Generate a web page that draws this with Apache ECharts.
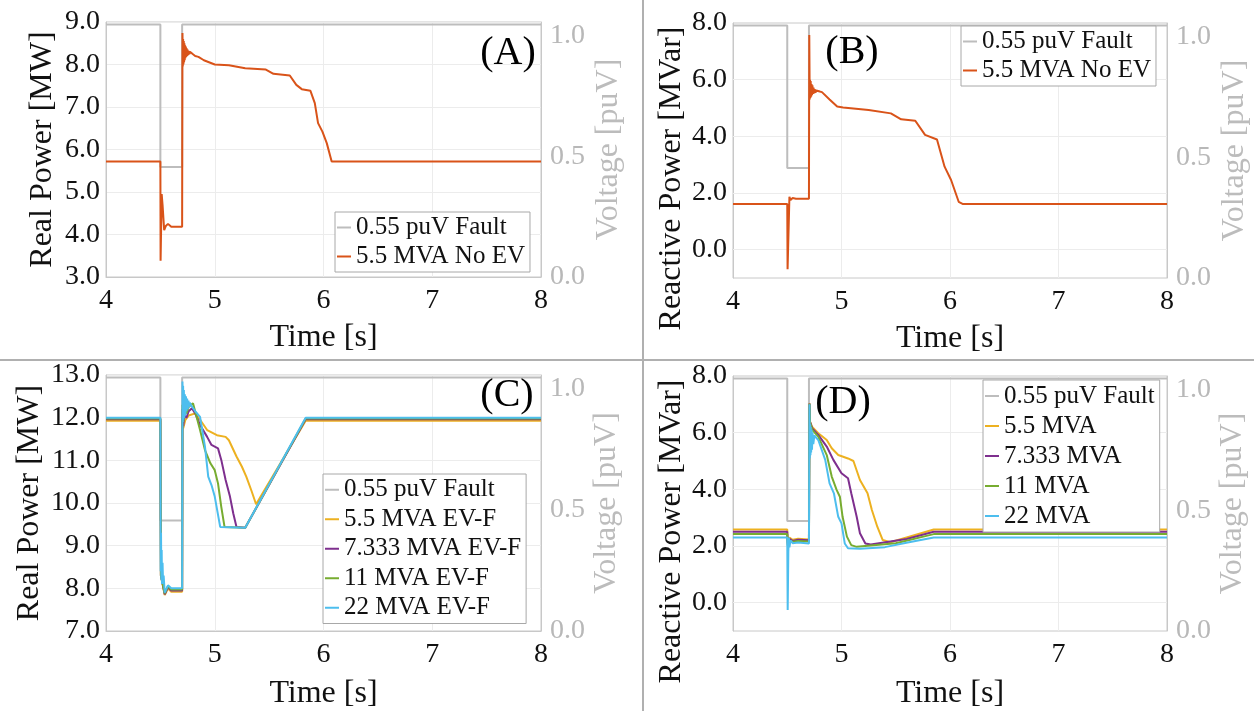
<!DOCTYPE html>
<html>
<head>
<meta charset="utf-8">
<script src="https://cdn.jsdelivr.net/npm/echarts@6/dist/echarts.min.js"></script>
<style>
html,body{margin:0;padding:0;background:#fff;}
#chart{width:1254px;height:711px;}
</style>
</head>
<body>
<div id="chart"></div>
<script>
// ---- Data ----
// Fault voltage (puV), shared by all panels
const tV = [4, 4.5, 4.5, 4.7, 4.7, 8];
const vV = [1.045, 1.045, 0.455, 0.455, 1.045, 1.045];

// Panel A: real power, 5.5 MVA No EV [MW]
const tA = [4, 4.5, 4.502, 4.512, 4.52, 4.535, 4.55, 4.57, 4.6, 4.7, 4.703, 4.706, 4.709, 4.712, 4.715, 4.718, 4.721, 4.724, 4.727, 4.730, 4.734, 4.738, 4.742, 4.746, 4.750, 4.755, 4.760, 4.766, 4.772, 4.78, 4.79, 4.80, 4.82, 4.85, 4.90, 5.0, 5.13, 5.28, 5.47, 5.54, 5.69, 5.75, 5.80, 5.88, 5.92, 5.95, 5.99, 6.03, 6.075, 8];
const pA = [5.72, 5.72, 3.38, 4.95, 4.7, 4.1, 4.2, 4.25, 4.18, 4.18, 8.74, 7.95, 8.60, 8.00, 8.55, 8.05, 8.50, 8.10, 8.45, 8.15, 8.42, 8.18, 8.38, 8.20, 8.35, 8.22, 8.32, 8.24, 8.30, 8.26, 8.27, 8.24, 8.20, 8.18, 8.10, 8.0, 7.98, 7.91, 7.88, 7.78, 7.74, 7.52, 7.42, 7.38, 7.09, 6.62, 6.42, 6.15, 5.72, 5.72];

// Panel B: reactive power, 5.5 MVA No EV [MVar]
const tB = [4, 4.5, 4.503, 4.52, 4.53, 4.55, 4.58, 4.7, 4.703, 4.707, 4.710, 4.713, 4.716, 4.720, 4.724, 4.728, 4.732, 4.737, 4.742, 4.748, 4.754, 4.76, 4.767, 4.775, 4.785, 4.80, 4.82, 4.89, 4.96, 5.015, 5.25, 5.455, 5.55, 5.68, 5.77, 5.88, 5.95, 6.01, 6.08, 6.12, 8];
const qB = [1.61, 1.61, -0.69, 1.87, 1.75, 1.82, 1.80, 1.80, 7.58, 5.3, 6.0, 5.35, 5.95, 5.4, 5.85, 5.45, 5.8, 5.5, 5.72, 5.52, 5.66, 5.54, 5.62, 5.56, 5.6, 5.58, 5.56, 5.3, 5.05, 5.02, 4.93, 4.81, 4.6, 4.55, 4.05, 3.89, 2.93, 2.46, 1.69, 1.61, 1.61];

// Panel C: real power with EV-F [MW]
const tC5 = [4, 4.5, 4.505, 4.54, 4.57, 4.6, 4.7, 4.703, 4.71, 4.73, 4.76, 4.82, 4.865, 4.93, 5.02, 5.10, 5.13, 5.20, 5.25, 5.29, 5.34, 5.38, 5.836, 8];
const pC5 = [11.93, 11.93, 8.3, 7.84, 8.0, 7.92, 7.92, 12.0, 11.75, 11.95, 12.05, 12.1, 11.95, 11.71, 11.59, 11.55, 11.47, 11.09, 10.85, 10.62, 10.27, 9.97, 11.93, 11.93];
const tC7 = [4, 4.5, 4.505, 4.54, 4.57, 4.6, 4.7, 4.703, 4.71, 4.72, 4.74, 4.76, 4.79, 4.82, 4.865, 4.93, 4.97, 5.03, 5.06, 5.10, 5.14, 5.17, 5.20, 5.28, 5.836, 8];
const pC7 = [11.96, 11.96, 8.3, 7.86, 8.03, 7.95, 7.95, 12.2, 11.8, 12.05, 12.0, 12.15, 12.22, 12.1, 11.83, 11.55, 11.36, 11.28, 11.01, 10.54, 10.15, 9.76, 9.44, 9.42, 11.96, 11.96];
const tC11 = [4, 4.5, 4.505, 4.54, 4.57, 4.6, 4.7, 4.703, 4.71, 4.72, 4.74, 4.76, 4.80, 4.865, 4.91, 4.96, 5.0, 5.03, 5.06, 5.09, 5.28, 5.836, 8];
const pC11 = [11.98, 11.98, 8.3, 7.88, 8.05, 7.97, 7.97, 12.3, 11.9, 12.15, 12.1, 12.25, 12.34, 11.71, 11.24, 10.93, 10.77, 10.46, 9.91, 9.44, 9.42, 11.98, 11.98];
const tC22 = [4, 4.5, 4.503, 4.506, 4.509, 4.512, 4.515, 4.52, 4.525, 4.53, 4.54, 4.57, 4.6, 4.7, 4.703, 4.706, 4.709, 4.712, 4.716, 4.72, 4.725, 4.73, 4.735, 4.74, 4.746, 4.752, 4.758, 4.765, 4.772, 4.78, 4.82, 4.865, 4.91, 4.94, 4.97, 5.0, 5.05, 5.28, 5.836, 8];
const pC22 = [12.0, 12.0, 8.4, 9.3, 8.2, 8.9, 8.1, 8.6, 8.1, 8.3, 7.9, 8.07, 8.0, 8.0, 12.85, 11.9, 12.75, 11.95, 12.65, 12.0, 12.55, 12.05, 12.5, 12.15, 12.45, 12.2, 12.4, 12.25, 12.35, 12.3, 12.15, 12.02, 11.32, 10.62, 10.42, 10.15, 9.44, 9.42, 12.0, 12.0];

// Panel D: reactive power with EV [MVar]
const tD5 = [4, 4.5, 4.505, 4.52, 4.55, 4.6, 4.7, 4.705, 4.71, 4.73, 4.786, 4.864, 4.91, 4.97, 5.06, 5.11, 5.17, 5.24, 5.28, 5.33, 5.38, 5.45, 5.6, 5.85, 8];
const qD5 = [2.58, 2.58, 2.1, 2.3, 2.22, 2.26, 2.23, 7.04, 6.39, 6.2, 5.98, 5.74, 5.45, 5.21, 5.09, 5.0, 4.33, 3.86, 3.27, 2.68, 2.21, 2.13, 2.3, 2.58, 2.58];
const tD7 = [4, 4.5, 4.505, 4.52, 4.55, 4.6, 4.7, 4.705, 4.71, 4.73, 4.786, 4.864, 4.925, 5.0, 5.06, 5.09, 5.14, 5.17, 5.22, 5.27, 5.6, 5.85, 8];
const qD7 = [2.50, 2.50, 2.05, 2.25, 2.18, 2.22, 2.2, 7.03, 6.38, 6.15, 5.92, 5.51, 5.04, 4.57, 4.39, 3.86, 3.03, 2.45, 2.09, 2.05, 2.25, 2.50, 2.50];
const tD11 = [4, 4.5, 4.505, 4.52, 4.55, 4.6, 4.7, 4.705, 4.71, 4.73, 4.786, 4.864, 4.91, 4.955, 4.985, 5.01, 5.05, 5.09, 5.14, 5.5, 5.85, 8];
const qD11 = [2.42, 2.42, 2.0, 2.2, 2.15, 2.18, 2.16, 7.02, 6.35, 6.1, 5.86, 5.21, 4.45, 3.98, 3.74, 3.03, 2.33, 2.03, 1.97, 2.1, 2.42, 2.42];
const tD22 = [4, 4.5, 4.504, 4.51, 4.515, 4.52, 4.53, 4.55, 4.6, 4.7, 4.705, 4.708, 4.711, 4.714, 4.717, 4.72, 4.724, 4.728, 4.733, 4.74, 4.75, 4.786, 4.85, 4.89, 4.93, 4.97, 5.0, 5.03, 5.06, 5.17, 5.4, 5.61, 5.85, 8];
const qD22 = [2.30, 2.30, -0.26, 1.8, 2.3, 1.95, 2.2, 2.1, 2.12, 2.09, 7.0, 5.1, 6.3, 5.2, 6.2, 5.3, 6.1, 5.4, 6.0, 5.6, 5.9, 5.74, 5.04, 4.21, 3.86, 3.03, 2.8, 2.09, 1.92, 1.9, 1.96, 2.12, 2.30, 2.30];

// Reactive-power axis gridline values (panels B and D)
const qGridTicks = [0, 2, 4, 6];

// Labels
const FAULT = '0.55 puV Fault';
const namesC = ['5.5 MVA EV-F', '7.333 MVA EV-F', '11 MVA EV-F', '22 MVA EV-F'];
const namesD = ['5.5 MVA', '7.333 MVA', '11 MVA', '22 MVA'];
const NOEV = '5.5 MVA No EV';

// ---- Styling ----
const F = 'Liberation Serif';
const GRAY = '#bdbdbd';
const AXC = '#c8c8c8';
const SPLIT = '#ececec';
const COLORS = ['#EDB120', '#7E2F8E', '#77AC30', '#4DBEEE'];
const RED = '#D95319';

const pairs = (t, v) => t.map((x, i) => [x, v[i]]);

const grids = [
  {left: 106, right: 713, top: 22, bottom: 434},
  {left: 733, right: 87, top: 23, bottom: 433},
  {left: 106, right: 713, top: 375, bottom: 80},
  {left: 733, right: 87, top: 376, bottom: 80}
].map(g => Object.assign({show: true, borderColor: AXC, borderWidth: 1, backgroundColor: '#fff'}, g));

function xAx(g, gap) {
  return {
    type: 'value', gridIndex: g, min: 4, max: 8, interval: 1,
    name: 'Time [s]', nameLocation: 'middle', nameGap: gap,
    nameTextStyle: {fontFamily: F, fontSize: 32, color: '#111'},
    axisLine: {lineStyle: {color: AXC}}, axisTick: {show: false},
    axisLabel: {fontFamily: F, fontSize: 28, color: '#111', margin: 10},
    splitLine: {lineStyle: {color: SPLIT}}
  };
}
function yLeft(g, name, min, max, interval, gap, shift, labelStep, showSplit) {
  return {
    type: 'value', gridIndex: g, position: 'left', min: min, max: max, interval: interval,
    name: name, nameLocation: 'middle', nameGap: gap,
    nameTextStyle: {fontFamily: F, fontSize: 32, color: '#111', padding: [0, shift, 0, 0]},
    axisLine: {show: true, lineStyle: {color: AXC}}, axisTick: {show: false},
    axisLabel: {fontFamily: F, fontSize: 28, color: '#111', margin: 6,
      formatter: v => Math.abs(v / labelStep - Math.round(v / labelStep)) < 1e-6 ? v.toFixed(1) : ''},
    splitLine: {show: showSplit, lineStyle: {color: SPLIT}}
  };
}
function yRight(g, gap) {
  return {
    type: 'value', gridIndex: g, position: 'right', min: 0, max: 1.055, interval: 0.5,
    name: 'Voltage [puV]', nameLocation: 'middle', nameGap: gap, nameRotate: 90,
    nameTextStyle: {fontFamily: F, fontSize: 32, color: '#bcbcbc'},
    axisLine: {show: true, lineStyle: {color: AXC}}, axisTick: {show: false},
    axisLabel: {fontFamily: F, fontSize: 28, color: '#b8b8b8', margin: 9,
      formatter: v => Math.abs(v * 2 - Math.round(v * 2)) < 1e-6 ? v.toFixed(1) : ''},
    splitLine: {show: false}
  };
}
function leg(items, left, top, lh) {
  return {
    orient: 'vertical', left: left, top: top, data: items, selectedMode: false,
    icon: 'rect', padding: [1, 5, 1, 2], itemGap: 0, itemWidth: 14, itemHeight: 2,
    backgroundColor: '#fff', borderColor: '#a8a8a8', borderWidth: 1, z: 10,
    textStyle: {fontFamily: F, fontSize: 25, color: '#111', lineHeight: lh}
  };
}
function line(name, data, gi, color, w) {
  return {
    type: 'line', name: name, data: data, xAxisIndex: gi, yAxisIndex: gi * 2 + (name === FAULT ? 1 : 0),
    symbol: 'none', showSymbol: false, color: color, itemStyle: {color: color},
    lineStyle: {color: color, width: w}, emphasis: {disabled: true}, animation: false, clip: true
  };
}
function gridLines(gi) {
  return {
    type: 'line', data: [], xAxisIndex: gi, yAxisIndex: gi * 2, silent: true, z: 1,
    markLine: {
      silent: true, z: 1, symbol: ['none', 'none'], label: {show: false}, animation: false,
      lineStyle: {color: SPLIT, type: 'solid', width: 1},
      emphasis: {disabled: true},
      data: qGridTicks.map(v => ({yAxis: v}))
    }
  };
}

const series = [gridLines(1), gridLines(3)];
for (let g = 0; g < 4; g++) series.push(line(FAULT, pairs(tV, vV), g, GRAY, 2));
series.push(line(NOEV, pairs(tA, pA), 0, RED, 2));
series.push(line(NOEV, pairs(tB, qB), 1, RED, 2));
const cT = [tC5, tC7, tC11, tC22], cP = [pC5, pC7, pC11, pC22];
const dT = [tD5, tD7, tD11, tD22], dQ = [qD5, qD7, qD11, qD22];
for (let i = 0; i < 4; i++) series.push(line(namesC[i], pairs(cT[i], cP[i]), 2, COLORS[i], 2));
for (let i = 0; i < 4; i++) series.push(line(namesD[i], pairs(dT[i], dQ[i]), 3, COLORS[i], 2));

const labelText = (txt, x, y) => ({
  type: 'text', x: x, y: y, z: 20,
  style: {text: txt, fontFamily: F, fontSize: 40, fill: '#000', align: 'center', verticalAlign: 'middle'}
});

const option = {
  backgroundColor: '#fff',
  animation: false,
  grid: grids,
  xAxis: [xAx(0, 45), xAx(1, 45), xAx(2, 47), xAx(3, 47)],
  yAxis: [
    yLeft(0, 'Real Power [MW]', 3, 9, 1, 47, 0, 1, true), yRight(0, 52),
    yLeft(1, 'Reactive Power [MVar]', -1, 8, 1, 45, 56, 2, false), yRight(1, 52),
    yLeft(2, 'Real Power [MW]', 7, 13, 1, 60, 0, 1, true), yRight(2, 50),
    yLeft(3, 'Reactive Power [MVar]', -1, 8, 1, 45, 56, 2, false), yRight(3, 50)
  ],
  legend: [
    leg([FAULT, NOEV], 335, 212, 29),
    leg([FAULT, NOEV], 961, 26, 29),
    leg([FAULT].concat(namesC), 323, 474, 29.5),
    leg([FAULT].concat(namesD), 983, 380, 30)
  ],
  series: series,
  graphic: [
    {type: 'line', shape: {x1: 643, y1: 0, x2: 643, y2: 711}, style: {stroke: '#b0b0b0', lineWidth: 2}, z: 20},
    {type: 'line', shape: {x1: 0, y1: 360, x2: 1254, y2: 360}, style: {stroke: '#b0b0b0', lineWidth: 2}, z: 20},
    labelText('(A)', 508, 53),
    labelText('(B)', 852, 52),
    labelText('(C)', 507, 395),
    labelText('(D)', 843, 402)
  ]
};

const chart = echarts.init(document.getElementById('chart'), null, {renderer: 'canvas'});
chart.setOption(option);
</script>
</body>
</html>
